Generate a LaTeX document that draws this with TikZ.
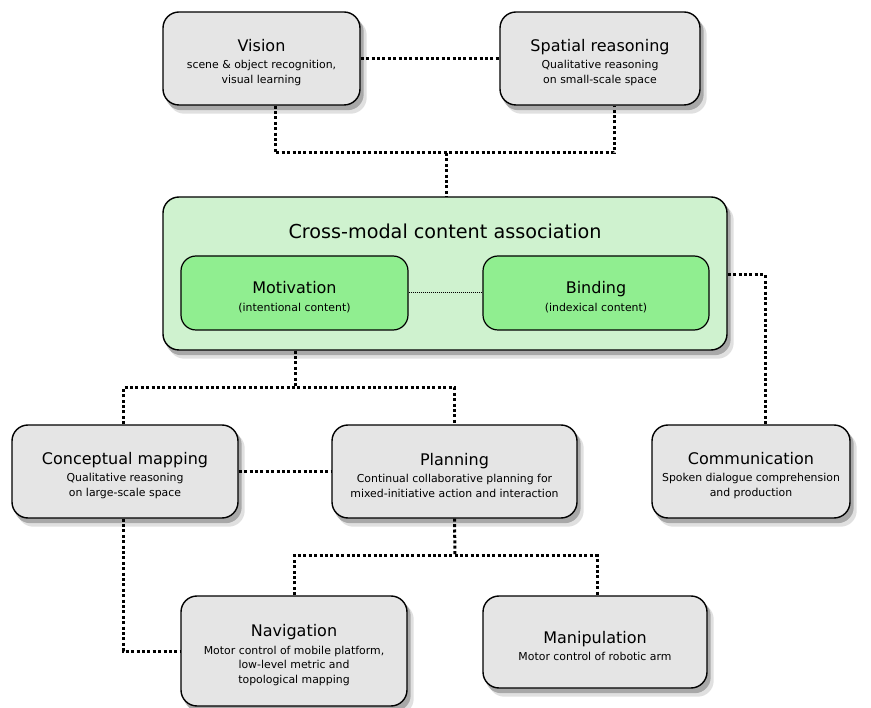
\documentclass[tikz,border=0pt]{standalone}
\usepackage{fontspec}
\setmainfont{DejaVu Sans}
\usetikzlibrary{backgrounds}
\definecolor{boxgray}{HTML}{E5E5E5}
\definecolor{palegreen}{HTML}{CFF2CF}
\definecolor{midgreen}{HTML}{90EE90}
\newcommand{\ttlfont}{\normalfont\fontsize{16}{18}\selectfont\rule{0pt}{20pt}}
\newcommand{\subfont}{\normalfont\fontsize{10.9}{14.5}\selectfont}
\tikzset{
  box/.style={draw=black, line width=1.4pt, rounded corners=16pt, fill=boxgray,
    align=center, inner sep=0pt, font=\subfont},
  inbox/.style={draw=black, line width=1.2pt, rounded corners=15pt, fill=midgreen,
    align=center, inner sep=0pt, font=\subfont},
  shade1/.style={fill=black, opacity=0.12, rounded corners=16pt},
  shade2/.style={fill=black, opacity=0.25, rounded corners=16pt},
  conn/.style={line width=3pt, dash pattern=on 3pt off 2.4pt},
  thinconn/.style={line width=1pt, dash pattern=on 1pt off 1pt},
}
\begin{document}
\begin{tikzpicture}[x=1pt, y=-1pt]
\useasboundingbox (0,0) rectangle (871,708);
% nodes
\node[box, minimum width=197pt, minimum height=93pt] (vis) at (261.5,58.5)
  {{\ttlfont Vision}\\[3pt]scene \& object recognition,\\visual learning};
\node[box, minimum width=200pt, minimum height=93pt] (spat) at (600,58.5)
  {{\ttlfont Spatial reasoning}\\[3pt]Qualitative reasoning\\on small-scale space};
\node[box, fill=palegreen, minimum width=564pt, minimum height=153pt] (cross) at (445,273.5) {};
\node[font=\normalfont\fontsize{19.2}{22}\selectfont] (crosstitle) at (445,231) {Cross-modal content association};
\node[inbox, minimum width=227pt, minimum height=74pt] (motiv) at (294.5,293)
  {{\ttlfont Motivation}\\[3pt](intentional content)};
\node[inbox, minimum width=226pt, minimum height=74pt] (bind) at (596,293)
  {{\ttlfont Binding}\\[3pt](indexical content)};
\node[box, minimum width=226pt, minimum height=93pt] (concept) at (125,471.5)
  {{\ttlfont Conceptual mapping}\\[3pt]Qualitative reasoning\\on large-scale space};
\node[box, minimum width=245pt, minimum height=93pt] (plan) at (454.5,471.5)
  {{\ttlfont Planning}\\[3pt]Continual collaborative planning for\\mixed-initiative action and interaction};
\node[box, minimum width=198pt, minimum height=93pt] (comm) at (751,471.5)
  {{\ttlfont Communication}\\[3pt]Spoken dialogue comprehension\\and production};
\node[box, minimum width=226pt, minimum height=110pt] (nav) at (294,651)
  {{\ttlfont Navigation}\\[3pt]Motor control of mobile platform,\\low-level metric and\\topological mapping};
\node[box, minimum width=224pt, minimum height=92pt] (manip) at (595,642)
  {{\ttlfont Manipulation}\\[3pt]Motor control of robotic arm};
% shadows
\begin{pgfonlayer}{background}
\foreach \n in {vis,spat,cross,concept,plan,comm,nav,manip} {
  \path[shade1] ([xshift=6pt,yshift=-8pt]\n.south west) rectangle ([xshift=6pt,yshift=-8pt]\n.north east);
  \path[shade2] ([xshift=3pt,yshift=-4.5pt]\n.south west) rectangle ([xshift=3pt,yshift=-4.5pt]\n.north east);
}
\end{pgfonlayer}
% junctions
\coordinate (j1) at (446,153);
\coordinate (j2) at (295,388);
\coordinate (j3) at (455,556);
% connectors
\draw[conn] (vis.east) -- (spat.west);
\draw[conn] ([xshift=13.5pt]vis.south) |- (j1) -| ([xshift=14pt]spat.south);
\draw[conn] (j1) -- (cross.north -| j1);
\draw[thinconn] (motiv.east) -- (bind.west);
\draw[conn] ([yshift=-1.5pt]cross.east) -| ([xshift=14pt]comm.north);
\draw[conn] (cross.south -| j2) -- (j2);
\draw[conn] ([xshift=-2pt]concept.north) |- (j2) -| (plan.north);
\draw[conn] (concept.east) -- (plan.west);
\draw[conn] (plan.south) -- (j3);
\draw[conn] (nav.north) |- (j3) -| ([xshift=2pt]manip.north);
\draw[conn] ([xshift=-2pt]concept.south) |- (nav.west);
\end{tikzpicture}
\end{document}
